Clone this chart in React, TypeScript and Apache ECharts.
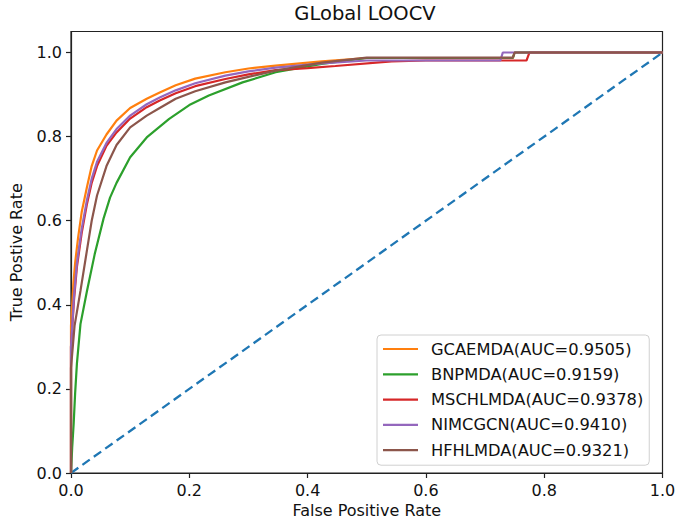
import React, { useEffect, useRef } from "react";
import * as echarts from "echarts";

const chartTitle = "GLobal LOOCV";
const xAxisName = "False Positive Rate";
const yAxisName = "True Postive Rate";
const tickValues = [0, 0.2, 0.4, 0.6, 0.8, 1.0];

const seriesNames = [
  "GCAEMDA(AUC=0.9505)",
  "BNPMDA(AUC=0.9159)",
  "MSCHLMDA(AUC=0.9378)",
  "NIMCGCN(AUC=0.9410)",
  "HFHLMDA(AUC=0.9321)",
];
const seriesColors = ["#ff7f0e", "#2ca02c", "#d62728", "#9467bd", "#8c564b"];

const fprGCAEMDA = [0, 0, 0.004, 0.007, 0.012, 0.018, 0.027, 0.035, 0.044, 0.06, 0.077, 0.1, 0.128, 0.15, 0.177, 0.21, 0.261, 0.3, 0.346, 0.424, 0.5, 0.6, 0.747, 0.75, 1];
const tprGCAEMDA = [0, 0.35, 0.45, 0.5, 0.56, 0.62, 0.68, 0.73, 0.767, 0.805, 0.838, 0.868, 0.89, 0.905, 0.922, 0.938, 0.953, 0.962, 0.969, 0.979, 0.987, 0.987, 0.987, 1, 1];

const fprBNPMDA = [0, 0.002, 0.0045, 0.007, 0.01, 0.016, 0.027, 0.04, 0.055, 0.066, 0.077, 0.1, 0.128, 0.166, 0.2, 0.233, 0.29, 0.346, 0.424, 0.5, 0.6, 0.747, 0.75, 1];
const tprBNPMDA = [0, 0.06, 0.117, 0.19, 0.26, 0.354, 0.433, 0.52, 0.605, 0.655, 0.69, 0.751, 0.798, 0.842, 0.875, 0.898, 0.929, 0.953, 0.973, 0.987, 0.987, 0.987, 1, 1];

const fprMSCHLMDA = [0, 0, 0.005, 0.01, 0.018, 0.027, 0.035, 0.044, 0.06, 0.077, 0.1, 0.128, 0.15, 0.177, 0.21, 0.261, 0.3, 0.346, 0.4, 0.447, 0.542, 0.6, 0.77, 0.775, 1];
const tprMSCHLMDA = [0, 0.3, 0.41, 0.49, 0.57, 0.64, 0.69, 0.73, 0.778, 0.81, 0.843, 0.87, 0.886, 0.903, 0.92, 0.937, 0.948, 0.958, 0.963, 0.968, 0.979, 0.981, 0.981, 1, 1];

const fprNIMCGCN = [0, 0, 0.005, 0.01, 0.018, 0.027, 0.035, 0.044, 0.06, 0.077, 0.1, 0.128, 0.15, 0.177, 0.21, 0.261, 0.3, 0.346, 0.424, 0.5, 0.6, 0.726, 0.73, 1];
const tprNIMCGCN = [0, 0.3, 0.42, 0.5, 0.58, 0.65, 0.7, 0.74, 0.785, 0.818, 0.85, 0.877, 0.893, 0.91, 0.927, 0.945, 0.955, 0.964, 0.974, 0.981, 0.981, 0.981, 1, 1];

const fprHFHLMDA = [0, 0, 0.006, 0.016, 0.027, 0.035, 0.044, 0.06, 0.077, 0.1, 0.128, 0.15, 0.177, 0.21, 0.261, 0.3, 0.346, 0.424, 0.5, 0.747, 0.75, 1];
const tprHFHLMDA = [0, 0.25, 0.35, 0.433, 0.53, 0.6, 0.66, 0.73, 0.78, 0.822, 0.85, 0.868, 0.89, 0.908, 0.929, 0.942, 0.957, 0.976, 0.988, 0.988, 1, 1];

const diagonalX = [0, 1];
const diagonalY = [0, 1];

const fprList = [fprGCAEMDA, fprBNPMDA, fprMSCHLMDA, fprNIMCGCN, fprHFHLMDA];
const tprList = [tprGCAEMDA, tprBNPMDA, tprMSCHLMDA, tprNIMCGCN, tprHFHLMDA];

const FONT = "DejaVu Sans";
const INK = "#111";

function pairs(xs: number[], ys: number[]) {
  return xs.map((x, i) => [x, ys[i]]);
}

export default function App() {
  const ref = useRef<HTMLDivElement>(null);
  useEffect(() => {
    if (!ref.current) return;
    const chart = echarts.init(ref.current, null, { renderer: "svg" });
    const curveSeries = seriesNames.map((name, i) => ({
      name,
      type: "line",
      data: pairs(fprList[i], tprList[i]),
      symbol: "none",
      lineStyle: { color: seriesColors[i], width: 2.2 },
      itemStyle: { color: seriesColors[i] },
      z: 3 + i,
    }));
    chart.setOption({
      animation: false,
      backgroundColor: "#fff",
      title: {
        text: chartTitle,
        left: 365,
        top: 3,
        padding: 0,
        textAlign: "center",
        textStyle: { fontFamily: FONT, fontSize: 19.5, fontWeight: "normal", color: INK },
      },
      grid: {
        left: 68,
        right: 19.5,
        top: 31.5,
        bottom: 55,
        show: true,
        borderColor: "#222",
        borderWidth: 1.2,
        backgroundColor: "transparent",
      },
      legend: {
        data: seriesNames,
        orient: "vertical",
        left: 377,
        top: 335,
        padding: [5, 6, 6, 6],
        itemGap: 7.3,
        icon: "rect",
        itemWidth: 35,
        itemHeight: 2.2,
        backgroundColor: "rgba(255,255,255,0.85)",
        borderColor: "#d0d0d0",
        borderWidth: 1,
        borderRadius: 4,
        textStyle: { fontFamily: FONT, fontSize: 16.3, color: INK, lineHeight: 18, padding: [0, 0, 0, 8] },
      },
      xAxis: {
        type: "value",
        min: 0,
        max: 1,
        interval: 0.2,
        name: xAxisName,
        nameLocation: "middle",
        nameGap: 29,
        nameTextStyle: { fontFamily: FONT, fontSize: 16, color: INK },
        axisLine: { show: true, onZero: false, lineStyle: { color: "#222", width: 1.2 } },
        axisTick: { show: true, length: 5, lineStyle: { color: "#222", width: 1.2 }, customValues: tickValues },
        axisLabel: {
          fontFamily: FONT,
          fontSize: 16,
          color: INK,
          margin: 9,
          customValues: tickValues,
          formatter: (v: number) => v.toFixed(1),
        },
        splitLine: { show: false },
      },
      yAxis: {
        type: "value",
        min: 0,
        max: 1.05,
        name: yAxisName,
        nameLocation: "middle",
        nameGap: 47,
        nameTextStyle: { fontFamily: FONT, fontSize: 16, color: INK },
        axisLine: { show: true, onZero: false, lineStyle: { color: "#222", width: 1.2 } },
        axisTick: { show: true, length: 5, lineStyle: { color: "#222", width: 1.2 }, customValues: tickValues },
        axisLabel: {
          fontFamily: FONT,
          fontSize: 16,
          color: INK,
          margin: 9,
          customValues: tickValues,
          formatter: (v: number) => v.toFixed(1),
        },
        splitLine: { show: false },
      },
      series: [
        {
          name: "diagonal",
          type: "line",
          data: pairs(diagonalX, diagonalY),
          symbol: "none",
          lineStyle: { color: "#1f77b4", width: 2.3, type: [9, 5] },
          z: 2,
        },
        ...curveSeries,
      ],
    });
    return () => chart.dispose();
  }, []);
  return <div ref={ref} style={{ position: "fixed", left: 0, top: 0, width: 682, height: 528 }} />;
}
